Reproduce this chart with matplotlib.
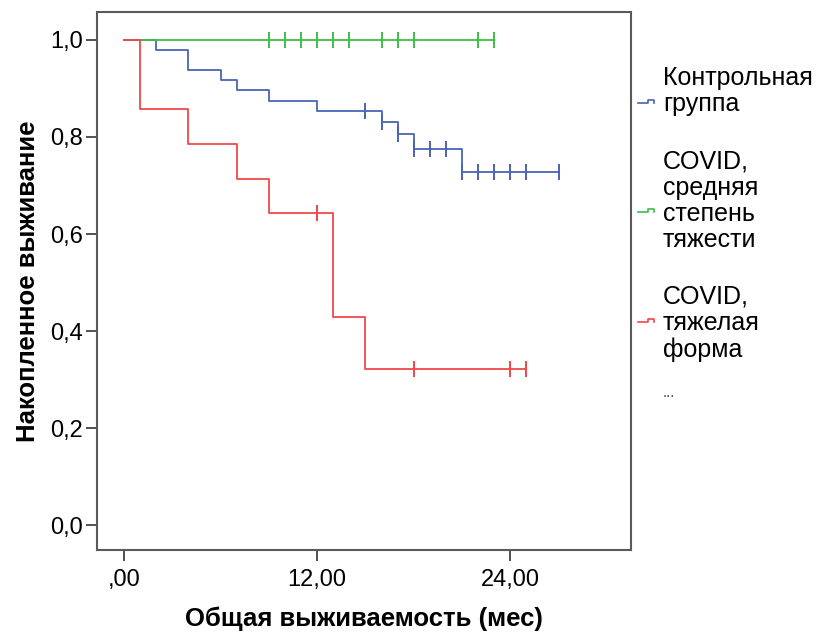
import numpy as np
import matplotlib
matplotlib.use("Agg")
import matplotlib.pyplot as plt
from matplotlib.lines import Line2D

plt.rcParams['font.family'] = ['Liberation Sans', 'DejaVu Sans']

# ---- data ----
groups = ["Контрольная\nгруппа", "COVID,\nсредняя\nстепень\nтяжести", "COVID,\nтяжелая\nформа"]

ctrl_t = [0, 2, 4, 6, 7, 9, 12, 16, 17, 18, 21, 27]
ctrl_s = [1.0, 0.979, 0.9375, 0.917, 0.896, 0.875, 0.854, 0.830, 0.806, 0.775, 0.728, 0.728]
ctrl_c = [15, 16, 17, 18, 19, 20, 21, 22, 23, 24, 25, 27]

mod_t = [0, 23]
mod_s = [1.0, 1.0]
mod_c = [9, 10, 11, 12, 13, 14, 16, 17, 18, 22, 23]

sev_t = [0, 1, 4, 7, 9, 13, 15, 25]
sev_s = [1.0, 0.857, 0.786, 0.714, 0.643, 0.429, 0.321, 0.321]
sev_c = [12, 18, 24, 25]

xticks = [0, 12, 24]
xticklabels = [",00", "12,00", "24,00"]
yticks = [0.0, 0.2, 0.4, 0.6, 0.8, 1.0]
yticklabels = ["0,0", "0,2", "0,4", "0,6", "0,8", "1,0"]

colors = ["#4A63B5", "#3DBE4B", "#F2464A"]

W, H = 818, 635
fig = plt.figure(figsize=(W / 100, H / 100), dpi=100)
ax_l, ax_r, ax_t, ax_b = 97, 631, 12, 550
ax = fig.add_axes([ax_l / W, 1 - ax_b / H, (ax_r - ax_l) / W, (ax_b - ax_t) / H])

def level(t, s, c):
    t = np.asarray(t); s = np.asarray(s)
    idx = np.searchsorted(t, np.asarray(c), side='right') - 1
    return s[idx]

series = [(ctrl_t, ctrl_s, ctrl_c), (mod_t, mod_s, mod_c), (sev_t, sev_s, sev_c)]
for (t, s, c), col in zip(series, colors):
    ax.step(t, s, where='post', color=col, lw=1.3, zorder=2)
    ax.plot(c, level(t, s, c), linestyle='none', marker='|', markersize=11,
            markeredgewidth=1.4, color=col, zorder=3)

ax.set_xlim(-1.68, 31.5)
ax.set_ylim(-0.0515, 1.0577)
ax.set_xticks(xticks)
ax.set_xticklabels(xticklabels)
ax.set_yticks(yticks)
ax.set_yticklabels(yticklabels)
ax.tick_params(axis='both', direction='out', length=8, width=1.3, color='#444444',
               labelsize=17, labelcolor='black')
ax.tick_params(axis='x', pad=6)
ax.tick_params(axis='y', pad=2)
for sp in ax.spines.values():
    sp.set_color('#5a5a5a')
    sp.set_linewidth(1.5)

ax.set_xlabel("Общая выживаемость (мес)", fontsize=18.5, fontweight='bold', va='center')
ax.set_ylabel("Накопленное выживание", fontsize=18.5, fontweight='bold', va='center')
ax.xaxis.set_label_coords(0.5, (ax_b - 619) / (ax_b - ax_t))
ax.yaxis.set_label_coords((28 - ax_l) / (ax_r - ax_l), 0.5)

# ---- legend (manual, outside the axes) ----
text_x = 663 / W
centers = [91, 201, 323]  # vertical centres of text blocks (px)
icon_y = [101, 210, 320]
for lab, col, cy, iy in zip(groups, colors, centers, icon_y):
    fig.text(text_x, 1 - cy / H, lab, fontsize=18, va='center', ha='left', linespacing=1.12)
    xs = np.array([638, 648, 648, 654, 654]) / W
    ys = 1 - np.array([iy + 1.5, iy + 1.5, iy - 1.5, iy - 1.5, iy + 1.5]) / H
    fig.add_artist(Line2D(xs, ys, color=col, lw=1.2, transform=fig.transFigure))
fig.text(text_x, 1 - 393 / H, "...", fontsize=11, va='center', ha='left', color='#444444')

fig.savefig("out.png", dpi=100)
